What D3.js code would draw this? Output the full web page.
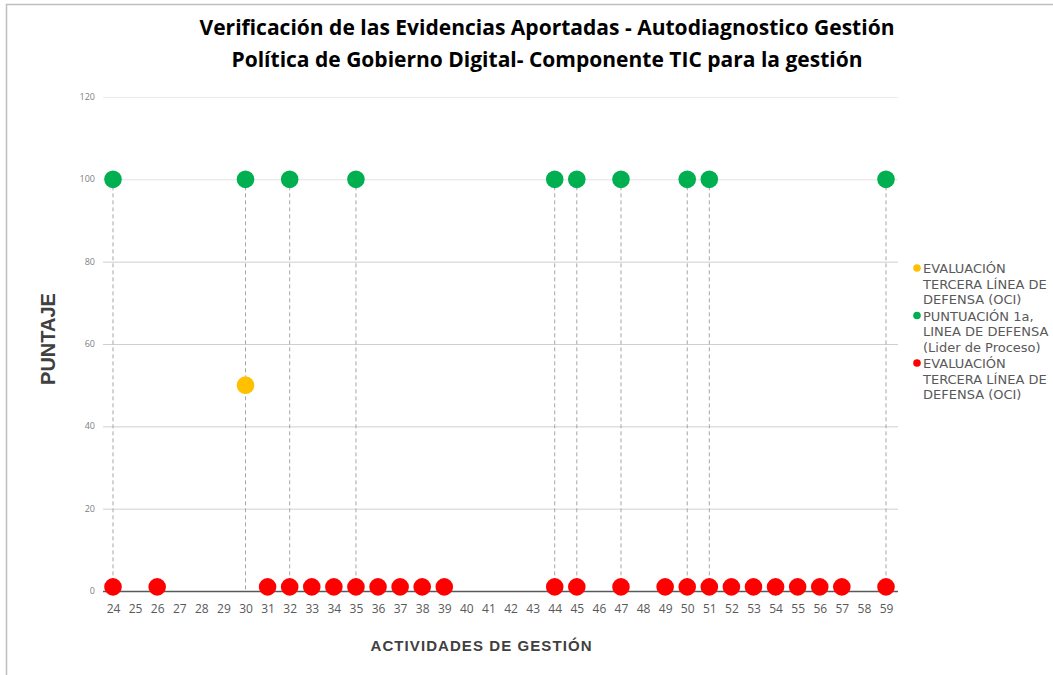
<!DOCTYPE html>
<html>
<head>
<meta charset="utf-8">
<script src="https://cdn.jsdelivr.net/npm/d3@7"></script>
<style>
  body { margin: 0; background: #fff; }
  svg { display: block; }
</style>
</head>
<body>
<div id="chart"></div>
<script>
// actividades 24..59
const categories = ["24","25","26","27","28","29","30","31","32","33","34","35","36","37","38","39","40","41",
                    "42","43","44","45","46","47","48","49","50","51","52","53","54","55","56","57","58","59"];

// EVALUACION TERCERA LINEA (amarillo)
const yellowVals = [null,null,null,null,null,null,50,null,null,null,null,null,null,null,null,null,null,null,
                    null,null,null,null,null,null,null,null,null,null,null,null,null,null,null,null,null,null];
// PUNTUACION 1a linea
const greenVals  = [100,null,null,null,null,null,100,null,100,null,null,100,null,null,null,null,null,null,
                    null,null,100,100,null,100,null,null,100,100,null,null,null,null,null,null,null,100];
// EVALUACION TERCERA LINEA (rojo)
const redVals    = [1,null,1,null,null,null,null,1,1,1,1,1,1,1,1,1,null,null,
                    null,null,1,1,null,1,null,1,1,1,1,1,1,1,1,1,null,1];

const yTicks = [0, 20, 40, 60, 80, 100, 120];

const legendItems = [
  { color: "#ffc000", lines: ["EVALUACIÓN", "TERCERA LÍNEA DE", "DEFENSA (OCI)"] },
  { color: "#00b050", lines: ["PUNTUACIÓN 1a,", "LINEA DE DEFENSA", "(Lider de Proceso)"] },
  { color: "#ff0000", lines: ["EVALUACIÓN", "TERCERA LÍNEA DE", "DEFENSA (OCI)"] }
];

var width = 1053, height = 675;

var svg = d3.select("#chart").append("svg")
    .attr("width", width)
    .attr("height", height);

// marco
svg.append("path")
    .attr("d", "M6.5," + height + " V4.5 H" + width)
    .attr("fill", "none")
    .attr("stroke", "#bfbfbf")
    .attr("stroke-width", 1.5);

var x = d3.scalePoint().domain(categories).range([113, 886]);
var y = d3.scaleLinear().domain([0, 120]).range([591, 97]);

// grid
svg.append("g")
    .selectAll("line")
    .data(yTicks.filter(function(d) { return d > 0; }))
    .enter().append("line")
    .attr("x1", 103).attr("x2", 898)
    .attr("y1", function(d) { return y(d) + 0.5; })
    .attr("y2", function(d) { return y(d) + 0.5; })
    .attr("stroke", function(d) { return d == 120 ? "#ececec" : (d == 100 ? "#e2e2e2" : "#cfcfcf"); })
    .attr("stroke-width", 1);

// y tick labels
svg.append("g")
    .selectAll("text")
    .data(yTicks)
    .enter().append("text")
    .attr("x", 95)
    .attr("y", function(d) { return y(d) + 3; })
    .attr("text-anchor", "end")
    .attr("font-family", "Open Sans, sans-serif")
    .attr("font-size", 9)
    .attr("fill", "#808080")
    .text(function(d) { return d; });

// x axis
var xAxis = svg.append("g")
    .attr("transform", "translate(0," + y(0) + ")")
    .call(d3.axisBottom(x).tickSize(0).tickPadding(13));
xAxis.select(".domain")
    .attr("d", "M103,0.5H898")
    .attr("stroke", "#595959")
    .attr("stroke-width", 1.6);
xAxis.selectAll("text")
    .attr("font-family", "Open Sans, sans-serif")
    .attr("font-size", 12)
    .attr("fill", "#595959");

// drop lines (linea punteada)
svg.append("g")
    .selectAll("line")
    .data(categories.filter(function(c, i) { return greenVals[i] != null; }))
    .enter().append("line")
    .attr("x1", function(d) { return x(d); })
    .attr("x2", function(d) { return x(d); })
    .attr("y1", function(d) { return y(greenVals[categories.indexOf(d)]); })
    .attr("y2", y(0))
    .attr("stroke", "#a6a6a6")
    .attr("stroke-width", 1)
    .attr("stroke-dasharray", "4,3");

function drawSeries(vals, color) {
    var pts = categories.map(function(c, i) { return { c: c, v: vals[i] }; })
        .filter(function(d) { return d.v != null; });
    svg.append("g")
        .selectAll("circle")
        .data(pts)
        .enter().append("circle")
        .attr("cx", function(d) { return x(d.c); })
        .attr("cy", function(d) { return y(d.v); })
        .attr("r", 8.8)
        .attr("fill", color);
}
drawSeries(greenVals, "#00b050");
drawSeries(yellowVals, "#ffc000");
drawSeries(redVals, "#ff0000");

// titulo
var title = svg.append("text")
    .attr("text-anchor", "middle")
    .attr("font-family", "Open Sans, sans-serif")
    .attr("font-weight", "bold")
    .attr("font-size", 21)
    .attr("fill", "#000");
title.append("tspan").attr("x", 547).attr("y", 35)
    .attr("textLength", 695).attr("lengthAdjust", "spacingAndGlyphs")
    .text("Verificación de las Evidencias Aportadas - Autodiagnostico Gestión");
title.append("tspan").attr("x", 547).attr("y", 67)
    .attr("textLength", 631).attr("lengthAdjust", "spacingAndGlyphs")
    .text("Política de Gobierno Digital- Componente TIC para la gestión");

// ejes titulos
svg.append("text")
    .attr("transform", "translate(55,339) rotate(-90)")
    .attr("text-anchor", "middle")
    .attr("font-family", "Liberation Sans, Arial, sans-serif")
    .attr("font-weight", "bold")
    .attr("font-size", 20)
    .attr("fill", "#404040")
    .text("PUNTAJE");

svg.append("text")
    .attr("x", 481)
    .attr("y", 651)
    .attr("text-anchor", "middle")
    .attr("font-family", "Liberation Sans, Arial, sans-serif")
    .attr("font-weight", "bold")
    .attr("font-size", 15)
    .attr("fill", "#404040")
    .attr("textLength", 221)
    .text("ACTIVIDADES DE GESTIÓN");

// leyenda
var legend = svg.append("g");
legendItems.forEach(function(item, i) {
    var top = 273 + i * 47.5;
    legend.append("circle")
        .attr("cx", 917)
        .attr("cy", top - 5)
        .attr("r", 3.8)
        .attr("fill", item.color);
    item.lines.forEach(function(l, j) {
        legend.append("text")
            .attr("x", 923)
            .attr("y", top + j * 15.5)
            .attr("font-family", "DejaVu Sans, sans-serif")
            .attr("font-size", 13)
            .attr("fill", "#595959")
            .text(l);
    });
});
</script>
</body>
</html>
